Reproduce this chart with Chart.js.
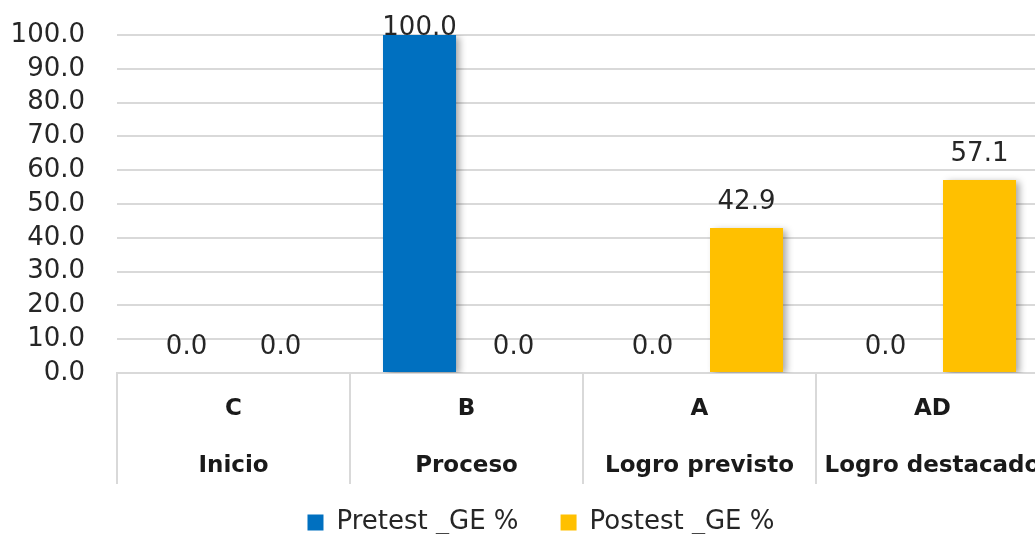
<!DOCTYPE html>
<html>
<head>
<meta charset="utf-8">
<script src="https://cdn.jsdelivr.net/npm/chart.js@4/dist/chart.umd.min.js"></script>
<style>
  html, body { margin: 0; padding: 0; background: #ffffff; overflow: hidden; }
  #wrap { position: relative; width: 1082px; height: 534px; }
</style>
</head>
<body>
<div id="wrap"><canvas id="chart"></canvas></div>
<script>
// Achievement levels: code + description (two-level category labels)
const levelCodes = ['C', 'B', 'A', 'AD'];
const levelNames = ['Inicio', 'Proceso', 'Logro previsto', 'Logro destacado'];

// Percentages per level
const pretestGE = [0.0, 100.0, 0.0, 0.0];
const postestGE = [0.0, 0.0, 42.9, 57.1];

const seriesNames = ['Pretest _GE %', 'Postest _GE %'];
const seriesColors = ['#0070C0', '#FFC000'];

// Y axis scale
const yMin = 0;
const yMax = 100;
const yStep = 10;

const textColor = '#262626';
const gridColor = '#d9d9d9';
Chart.defaults.font.family = "'DejaVu Sans', sans-serif";
Chart.defaults.color = textColor;

// Soft drop shadow behind the bars
const barShadow = {
  id: 'barShadow',
  beforeDatasetDraw(chart) {
    const ctx = chart.ctx;
    ctx.save();
    ctx.shadowColor = 'rgba(0,0,0,0.35)';
    ctx.shadowBlur = 7;
    ctx.shadowOffsetX = 4;
    ctx.shadowOffsetY = 2;
  },
  afterDatasetDraw(chart) {
    chart.ctx.restore();
  }
};

// Value labels above each bar
const valueLabels = {
  id: 'valueLabels',
  afterDatasetsDraw(chart) {
    const ctx = chart.ctx;
    const top = chart.chartArea.top;
    ctx.save();
    ctx.font = "26px 'DejaVu Sans', sans-serif";
    ctx.fillStyle = textColor;
    ctx.textAlign = 'center';
    ctx.textBaseline = 'alphabetic';
    chart.data.datasets.forEach((ds, di) => {
      const meta = chart.getDatasetMeta(di);
      meta.data.forEach((bar, i) => {
        const v = ds.data[i];
        const y = Math.max(bar.y - 19, top);
        ctx.fillText(v.toFixed(1), bar.x, y);
      });
    });
    ctx.restore();
  }
};

// Keep the legend centred on the whole canvas width
const centreLegend = {
  id: 'centreLegend',
  afterLayout(chart) {
    const lg = chart.legend;
    if (!lg) return;
    const shift = chart.width / 2 - (lg.left + lg.right) / 2;
    lg.left += shift;
    lg.right += shift;
  }
};

const labels = levelCodes.map((c, i) => [c, levelNames[i]]);

new Chart(document.getElementById('chart'), {
  type: 'bar',
  data: {
    labels: labels,
    datasets: [
      {
        label: seriesNames[0],
        data: pretestGE,
        backgroundColor: seriesColors[0],
        borderWidth: 0,
        categoryPercentage: 0.807,
        barPercentage: 0.777
      },
      {
        label: seriesNames[1],
        data: postestGE,
        backgroundColor: seriesColors[1],
        borderWidth: 0,
        categoryPercentage: 0.807,
        barPercentage: 0.777
      }
    ]
  },
  options: {
    responsive: true,
    maintainAspectRatio: false,
    animation: false,
    layout: {
      padding: { left: 10.6, right: 33, top: 35, bottom: -11.5 }
    },
    scales: {
      x: {
        offset: true,
        grid: {
          offset: true,
          drawOnChartArea: false,
          drawTicks: true,
          tickLength: 111,
          color: gridColor,
          lineWidth: 2
        },
        border: { display: true, color: gridColor, width: 2 },
        ticks: {
          padding: -103.5,
          maxRotation: 0,
          autoSkip: false,
          color: '#1a1a1a',
          font: { size: 23, weight: 'bold', lineHeight: 57 / 23 }
        },
        afterFit(scale) {
          // the axis band ends where the category separators end
          scale.height = 111;
        }
      },
      y: {
        min: yMin,
        max: yMax,
        grid: {
          color: gridColor,
          lineWidth: 2,
          drawTicks: true,
          tickLength: 32,
          tickColor: 'rgba(0,0,0,0)'
        },
        border: { display: false },
        ticks: {
          stepSize: yStep,
          autoSkip: false,
          padding: 0,
          color: textColor,
          font: { size: 26 },
          callback: (v) => Number(v).toFixed(1)
        }
      }
    },
    plugins: {
      legend: {
        position: 'bottom',
        title: {
          display: true,
          text: '',
          font: { size: 1 },
          padding: { top: -17.7, bottom: 0 }
        },
        labels: {
          boxWidth: 16,
          boxHeight: 16,
          padding: 42,
          color: textColor,
          font: { size: 26 }
        }
      },
      tooltip: { enabled: false }
    }
  },
  plugins: [barShadow, valueLabels, centreLegend]
});
</script>
</body>
</html>
